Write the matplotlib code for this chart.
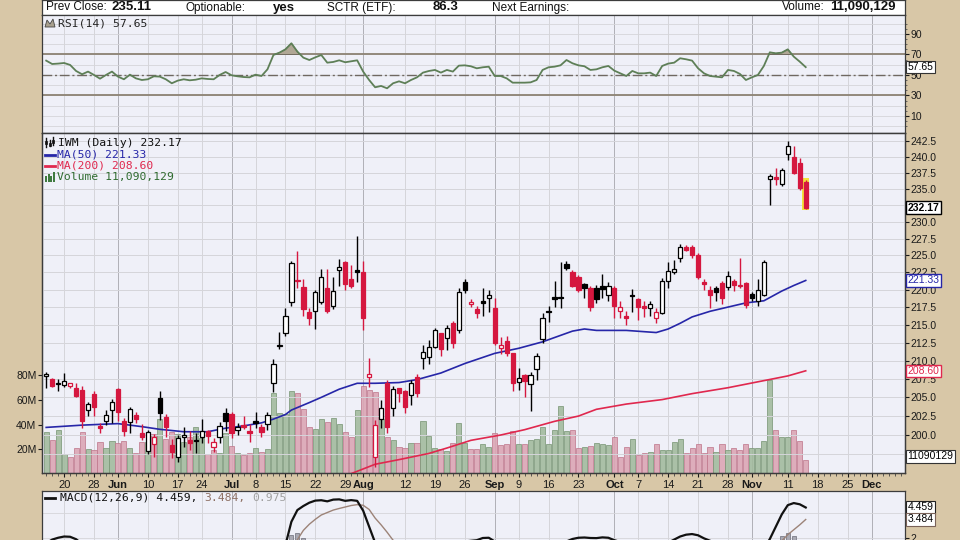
import numpy as np
import pandas as pd
import matplotlib
matplotlib.use("Agg")
import matplotlib.pyplot as plt
from matplotlib.patches import Rectangle, Polygon
from matplotlib.lines import Line2D
from matplotlib.ticker import NullLocator
import matplotlib.transforms as mtrans

plt.rcParams['font.family'] = ['Liberation Sans', 'DejaVu Sans']

# trading calendar, incl. the empty future part of the axis
holidays = ['2024-05-27', '2024-06-19', '2024-07-04', '2024-09-02', '2024-11-28']
days = pd.bdate_range('2024-05-15', '2024-12-10', freq='C', holidays=holidays)

opens = [207.9, 207.5, 206.8, 206.6, 206.5, 206.2, 206.0, 203.3, 205.5, 201.2,
         201.8, 203.3, 206.1, 201.8, 201.7, 202.6, 200.3, 197.9, 198.8, 204.9,
         202.4, 198.7, 197.2, 199.7, 199.4, 199.4, 199.8, 200.5, 198.4, 199.8,
         202.9, 202.8, 200.7, 201.3, 200.5, 201.8, 201.1, 201.4, 207.0, 212.0,
         213.9, 218.2, 221.2, 220.4, 216.8, 216.9, 218.2, 220.2, 217.6, 222.9,
         224.0, 221.5, 222.9, 222.6, 207.8, 197.1, 202.1, 207.0, 203.6, 206.2,
         205.9, 205.3, 207.8, 210.4, 210.5, 211.9, 213.8, 213.1, 215.2, 214.3,
         221.1, 217.9, 217.2, 218.3, 218.8, 217.4, 211.8, 212.7, 211.0, 207.1,
         208.0, 206.8, 208.9, 213.0, 217.0, 218.9, 218.9, 223.8, 222.6, 221.8,
         220.8, 220.2, 220.2, 220.6, 219.2, 220.2, 216.9, 216.3, 219.3, 218.6,
         217.6, 217.4, 216.0, 216.7, 221.3, 222.5, 224.6, 226.3, 226.2, 225.1,
         221.1, 220.0, 220.2, 220.9, 220.4, 221.3, 220.5, 220.9, 219.4, 218.3,
         219.2, 236.5, 236.8, 235.8, 240.4, 240.0, 239.0, 236.1]
highs = [208.4, 207.6, 207.5, 208.3, 207.0, 207.0, 206.5, 204.4, 205.8, 201.6,
         203.3, 204.8, 206.2, 202.2, 203.7, 203.0, 201.5, 200.7, 200.1, 205.9,
         202.8, 199.5, 200.0, 201.0, 200.5, 200.2, 202.1, 200.7, 199.6, 201.7,
         203.6, 203.1, 201.6, 202.5, 201.4, 203.1, 201.4, 203.1, 210.2, 214.0,
         217.3, 224.1, 225.6, 221.5, 217.4, 220.0, 223.0, 223.0, 221.8, 224.5,
         224.1, 223.6, 227.9, 224.2, 210.4, 202.0, 204.7, 207.3, 206.5, 206.3,
         206.0, 207.4, 208.2, 212.2, 212.8, 214.5, 213.9, 215.0, 215.5, 220.3,
         221.6, 218.6, 217.6, 220.3, 220.0, 218.8, 213.3, 213.4, 211.1, 209.0,
         208.1, 208.4, 211.1, 216.7, 217.7, 221.2, 224.0, 224.1, 222.9, 222.1,
         220.9, 220.5, 220.7, 222.2, 221.1, 220.5, 218.3, 217.0, 220.1, 218.8,
         218.4, 218.4, 217.3, 221.7, 224.0, 224.3, 226.7, 226.5, 226.5, 225.4,
         221.6, 220.5, 220.5, 221.2, 222.7, 221.6, 224.6, 221.1, 219.6, 221.6,
         224.3, 237.3, 238.3, 238.3, 242.5, 241.8, 239.8, 236.4]
lows = [206.3, 206.4, 205.9, 206.4, 206.2, 205.0, 200.9, 202.5, 202.5, 200.3,
        201.3, 201.6, 201.8, 199.9, 200.3, 201.6, 199.3, 197.5, 197.2, 202.0,
        199.7, 197.0, 196.5, 198.4, 198.0, 197.6, 199.0, 199.0, 197.8, 199.0,
        200.5, 199.6, 200.0, 200.8, 199.1, 200.9, 199.8, 200.7, 205.7, 211.6,
        213.4, 217.7, 220.2, 216.3, 215.0, 214.4, 218.0, 216.6, 217.2, 220.5,
        220.0, 220.2, 221.1, 214.2, 206.4, 195.9, 200.9, 200.3, 202.5, 204.4,
        202.9, 204.0, 205.0, 208.9, 209.6, 211.8, 210.7, 211.4, 211.8, 213.9,
        219.5, 217.5, 215.9, 216.3, 216.8, 212.1, 210.9, 210.7, 205.9, 206.0,
        205.0, 203.2, 207.4, 212.5, 215.4, 217.5, 217.4, 222.9, 220.4, 219.7,
        218.8, 216.9, 218.1, 218.8, 218.3, 216.0, 216.0, 214.9, 216.8, 215.7,
        216.1, 216.3, 215.2, 216.5, 220.3, 222.2, 224.0, 225.6, 224.6, 221.5,
        219.9, 217.3, 218.3, 218.0, 219.9, 219.8, 220.3, 217.4, 218.4, 217.6,
        219.1, 232.6, 235.6, 235.5, 239.6, 237.4, 234.9, 232.0]
closes = [208.2, 206.5, 207.0, 207.2, 206.9, 205.2, 201.8, 204.1, 203.7, 200.9,
          202.6, 204.4, 203.1, 200.5, 203.4, 202.1, 199.8, 200.4, 199.7, 202.9,
          201.1, 197.8, 199.6, 200.0, 198.9, 199.2, 200.5, 199.9, 199.1, 201.2,
          201.8, 200.3, 201.1, 201.0, 200.2, 201.6, 200.4, 202.6, 209.6, 212.2,
          216.3, 223.9, 221.4, 217.2, 216.0, 219.7, 221.8, 217.0, 219.8, 223.3,
          220.8, 220.6, 222.6, 215.9, 208.1, 201.3, 203.6, 201.1, 206.1, 205.6,
          203.7, 207.0, 205.6, 211.2, 211.9, 214.2, 211.6, 214.5, 212.4, 219.6,
          219.9, 218.2, 216.6, 218.1, 219.3, 212.4, 212.1, 211.1, 207.0, 207.6,
          207.2, 208.0, 210.6, 216.0, 216.8, 218.7, 218.75, 223.1, 220.6, 220.0,
          220.3, 217.5, 218.7, 220.1, 220.6, 217.6, 217.5, 216.0, 219.1, 217.5,
          217.4, 217.9, 216.8, 221.2, 222.7, 223.0, 226.3, 225.8, 225.0, 221.8,
          220.8, 219.2, 219.6, 218.8, 222.0, 220.7, 220.65, 217.8, 218.8, 220.0,
          224.0, 237.0, 236.5, 237.9, 241.7, 237.5, 235.1, 232.17]
volume_m = [33.8, 27.5, 35.6, 16.2, 13.5, 20.8, 33.8, 20.0, 19.4, 25.7,
            20.8, 26.7, 24.8, 26.7, 20.8, 17.3, 26.2, 25.6, 32.4, 44.5,
            28.1, 34.3, 32.4, 26.2, 30.0, 38.3, 29.0, 16.2, 19.4, 17.3,
            33.0, 22.7, 17.3, 15.4, 17.3, 20.8, 18.0, 20.0, 65.9, 49.7,
            48.3, 67.5, 65.3, 52.6, 37.8, 36.2, 44.3, 42.4, 45.1, 40.5,
            34.3, 30.2, 51.8, 71.3, 68.0, 66.7, 44.3, 30.0, 27.5, 21.6,
            21.0, 25.3, 25.3, 42.9, 30.8, 21.0, 20.0, 19.0, 25.0, 41.0,
            25.0, 20.0, 20.0, 24.0, 22.0, 33.0, 23.6, 24.5, 35.0, 24.0,
            24.0, 27.5, 28.0, 37.8, 24.0, 36.0, 55.0, 35.0, 35.6, 21.0,
            21.6, 23.0, 25.3, 24.6, 23.6, 30.2, 14.0, 21.6, 28.0, 15.0,
            17.0, 17.5, 24.6, 19.6, 19.6, 25.8, 28.0, 17.0, 20.8, 24.6,
            17.0, 21.6, 17.5, 24.6, 19.6, 20.8, 19.6, 24.6, 20.8, 21.0,
            27.0, 76.0, 35.6, 30.0, 30.0, 35.6, 27.0, 11.090129]
rsi14 = [64.0, 60.7, 61.1, 61.7, 59.8, 53.9, 50.7, 53.3, 50.0, 46.4,
         50.0, 53.3, 48.4, 45.8, 50.3, 46.7, 45.1, 45.8, 48.7, 48.4,
         45.8, 41.9, 44.5, 45.8, 44.8, 45.4, 46.7, 46.1, 45.8, 50.0,
         52.9, 49.7, 48.7, 48.0, 47.7, 50.3, 49.0, 55.5, 69.5, 71.8,
         75.0, 80.9, 72.8, 66.9, 64.6, 67.2, 69.5, 62.0, 62.7, 64.3,
         62.4, 63.3, 64.3, 53.3, 45.1, 38.0, 39.3, 37.0, 41.9, 43.8,
         41.9, 45.1, 47.7, 52.3, 53.9, 54.9, 52.3, 54.9, 53.3, 59.1,
         59.4, 58.5, 56.5, 57.5, 58.1, 49.0, 49.0, 46.7, 42.5, 42.5,
         42.5, 42.8, 45.1, 54.9, 57.5, 58.1, 59.4, 64.6, 61.4, 59.4,
         58.5, 54.9, 55.5, 57.5, 58.8, 54.2, 51.6, 49.0, 53.9, 51.6,
         51.6, 52.3, 49.0, 58.8, 61.1, 62.0, 66.3, 65.3, 64.0, 56.5,
         51.6, 49.0, 48.4, 47.7, 54.9, 53.9, 51.0, 45.1, 47.7, 50.0,
         58.8, 72.1, 71.1, 71.8, 75.0, 67.9, 63.0, 57.65]
macd_line = [1.55, 1.85, 2.0, 2.1, 2.08, 1.88, 1.5, 1.3, 1.15, 0.9,
             0.8, 0.8, 0.7, 0.45, 0.4, 0.3, 0.1, 0.05, -0.1, 0.05,
             -0.05, -0.3, -0.35, -0.4, -0.45, -0.5, -0.45, -0.5, -0.55, -0.45,
             -0.3, -0.35, -0.35, -0.35, -0.4, -0.35, -0.4, -0.3, 0.4, 0.9,
             1.4, 3.3, 4.25, 4.58, 4.85, 5.02, 5.05, 4.96, 5.1, 5.12,
             5.0, 5.06, 5.0, 4.2, 2.9, 1.6, 1.2, 0.8, 0.6, 0.4,
             0.3, 0.3, 0.25, 0.5, 0.7, 1.0, 1.1, 1.3, 1.3, 1.6,
             1.7, 1.75, 1.8, 1.98, 2.0, 1.7, 1.35, 1.05, 0.6, 0.35,
             0.2, 0.1, 0.2, 0.6, 0.95, 1.3, 1.6, 1.7, 1.9, 2.0,
             2.02, 1.98, 1.97, 2.03, 2.0, 1.8, 1.65, 1.45, 1.4, 1.3,
             1.2, 1.1, 1.0, 1.3, 1.6, 1.85, 2.1, 2.25, 2.3, 2.2,
             1.95, 1.75, 1.6, 1.4, 1.35, 1.25, 1.15, 0.9, 0.75, 0.7,
             1.1, 1.9, 2.9, 3.9, 4.65, 4.82, 4.72, 4.459]
macd_signal = [1.6, 1.6, 1.65, 1.7, 1.75, 1.78, 1.72, 1.64, 1.55, 1.45,
               1.35, 1.25, 1.15, 1.05, 0.95, 0.85, 0.7, 0.6, 0.45, 0.35,
               0.3, 0.2, 0.1, 0.0, -0.1, -0.15, -0.2, -0.25, -0.3, -0.3,
               -0.3, -0.3, -0.3, -0.3, -0.3, -0.3, -0.3, -0.3, -0.2, 0.0,
               0.5, 1.05, 1.84, 2.6, 3.1, 3.5, 3.85, 4.05, 4.25, 4.38,
               4.5, 4.62, 4.69, 4.64, 4.3, 3.6, 3.05, 2.45, 1.8, 1.5,
               1.25, 1.05, 0.9, 0.8, 0.75, 0.75, 0.8, 0.85, 0.95, 1.05,
               1.2, 1.3, 1.4, 1.5, 1.6, 1.6, 1.55, 1.45, 1.3, 1.15,
               1.0, 0.9, 0.8, 0.75, 0.8, 0.9, 1.0, 1.15, 1.3, 1.45,
               1.55, 1.65, 1.7, 1.75, 1.78, 1.78, 1.75, 1.7, 1.65, 1.6,
               1.5, 1.45, 1.35, 1.35, 1.4, 1.5, 1.6, 1.7, 1.75, 1.75,
               1.72, 1.7, 1.68, 1.62, 1.55, 1.5, 1.45, 1.4, 1.3, 1.2,
               1.2, 1.35, 1.55, 1.75, 2.25, 2.65, 3.05, 3.484]

# moving averages read at points along the curves (day index, value)
ma50_day = [0, 6, 12, 16, 19, 23, 27, 30, 33, 36, 38, 40, 41, 44, 46, 49, 52, 55, 59, 62,
            66, 70, 75, 79, 83, 86, 88, 90, 92, 97, 102, 104, 106, 108, 111, 114, 117, 120,
            123, 125, 127]
ma50_val = [201.0, 201.3, 201.5, 201.1, 200.75, 200.43, 200.43, 200.9, 201.2, 201.6, 202.1,
            202.7, 203.3, 204.3, 205.0, 206.1, 206.9, 206.9, 207.0, 207.4, 208.3, 209.6,
            211.0, 211.7, 212.6, 213.5, 214.1, 214.4, 214.2, 214.2, 213.9, 214.4, 215.2,
            216.1, 216.9, 217.5, 218.1, 218.4, 219.8, 220.6, 221.33]
ma200_day = [45, 51, 55, 59, 64, 67, 71, 76, 80, 85, 89, 92, 97, 103, 108, 114, 119, 124, 127]
ma200_val = [194.3, 195.0, 196.2, 196.8, 197.6, 198.3, 199.3, 200.0, 200.7, 201.8, 202.5,
             203.4, 204.1, 204.7, 205.5, 206.3, 207.1, 207.9, 208.6]

tick_days = ['2024-05-20', '2024-05-28', '2024-06-03', '2024-06-10', '2024-06-17',
             '2024-06-24', '2024-07-01', '2024-07-08', '2024-07-15', '2024-07-22',
             '2024-07-29', '2024-08-01', '2024-08-12', '2024-08-19', '2024-08-26',
             '2024-09-03', '2024-09-09', '2024-09-16', '2024-09-23', '2024-10-01',
             '2024-10-07', '2024-10-14', '2024-10-21', '2024-10-28', '2024-11-01',
             '2024-11-11', '2024-11-18', '2024-11-25', '2024-12-02']
tick_text = ['20', '28', 'Jun', '10', '17', '24', 'Jul', '8', '15', '22', '29', 'Aug',
             '12', '19', '26', 'Sep', '9', '16', '23', 'Oct', '7', '14', '21', '28',
             'Nov', '11', '18', '25', 'Dec']
price_levels = [197.5 + 2.5 * k for k in range(19)]

# colours
BEIGE = '#d8c7a7'
PANEL = '#eff0f8'
GRID = '#d5d5da'
GRID_M = '#b0b0b6'
SPINE = '#3c3c3c'
UPC = '#000000'
DNC = '#d5173f'
BLUE = '#2626a8'
RED = '#e0284e'

opens, highs, lows, closes = map(np.array, (opens, highs, lows, closes))
vol = np.array(volume_m)
rsi = np.array(rsi14)
macd = np.array(macd_line)
sig = np.array(macd_signal)
n = len(closes)
x = np.arange(n)
pos = {d: i for i, d in enumerate(days)}
tick_pos = [pos[pd.Timestamp(d)] for d in tick_days]
months = {'Jun', 'Jul', 'Aug', 'Sep', 'Oct', 'Nov', 'Dec'}
XLIM = (-0.7, 143.6)

fig = plt.figure(figsize=(9.6, 5.4), dpi=100)
fig.patch.set_facecolor(BEIGE)


def fx(p):
    return p / 960


def fy(p):
    return 1 - p / 540


L, R = 42, 905
ax_head = fig.add_axes([fx(L), fy(15), fx(R - L), 15 / 540])
ax_rsi = fig.add_axes([fx(L), fy(133), fx(R - L), 118 / 540])
ax_vol = fig.add_axes([fx(L), fy(473), fx(R - L), 340 / 540])
ax = ax_vol.twinx()
ax_macd = fig.add_axes([fx(L), fy(600), fx(R - L), 109 / 540])

ax_head.set_facecolor('white')
ax_head.set_xticks([])
ax_head.set_yticks([])
for a in (ax_head, ax_rsi, ax_vol, ax, ax_macd):
    for s in a.spines.values():
        s.set_color(SPINE)
        s.set_linewidth(0.9)
for a in (ax_rsi, ax_vol, ax_macd):
    a.set_facecolor(PANEL)
    a.set_xlim(*XLIM)
    for p, t in zip(tick_pos, tick_text):
        a.axvline(p, color=GRID_M if t in months else GRID, lw=0.7, zorder=0)
for a in (ax_rsi, ax_macd):
    a.tick_params(axis='x', which='both', bottom=False, labelbottom=False)
ax.set_xlim(*XLIM)

# header
hy = fy(7.5)
for px_, txt, bold in [(45.5, 'Prev Close:', False), (111.5, '235.11', True),
                       (186, 'Optionable:', False), (272.5, 'yes', True),
                       (327, 'SCTR (ETF):', False), (432.5, '86.3', True),
                       (491.5, 'Next Earnings:', False), (781.5, 'Volume:', False),
                       (830, '11,090,129', True)]:
    fig.text(fx(px_), hy, txt, fontsize=9.5 if bold else 8.5,
             fontweight='bold' if bold else 'normal', va='center', ha='left', color='#111')

# ---- RSI panel
ax_rsi.set_ylim(-6.6, 108.5)
for v in range(0, 101, 10):
    ax_rsi.axhline(v, color=GRID, lw=0.6, zorder=0)
ax_rsi.fill_between(x, 70, rsi, where=rsi >= 70, interpolate=True,
                    facecolor='#b0a795', edgecolor='#6b6459', lw=0.6, zorder=2)
ax_rsi.axhline(70, color='#8c8273', lw=1.3, zorder=1)
ax_rsi.axhline(30, color='#8c8273', lw=1.3, zorder=1)
ax_rsi.axhline(50, color='#6f6861', lw=1.0, ls=(0, (7, 2, 1.5, 2)), zorder=1)
ax_rsi.plot(x, rsi, color='#5e7f57', lw=1.3, zorder=3)
ax_rsi.yaxis.tick_right()
ax_rsi.set_yticks([10, 30, 50, 70, 90])
ax_rsi.set_yticks(range(0, 101, 5), minor=True)
ax_rsi.tick_params(axis='y', which='major', length=3, pad=1, labelsize=7.5, colors='#1a1a1a')
ax_rsi.tick_params(axis='y', which='minor', length=1.5, colors='#555')
ax_rsi.text(1.003, rsi[-1], f'{rsi[-1]:.2f}', transform=ax_rsi.get_yaxis_transform(),
            va='center', ha='left', fontsize=7.5, clip_on=False, zorder=10,
            bbox=dict(boxstyle='square,pad=0.12', fc='white', ec='#333', lw=0.8))

mono = dict(family='DejaVu Sans Mono', fontsize=8.2, va='center', ha='left')
CH = 0.602 * 8.2 * 100 / 72   # width of one mono character in pixels

fig.text(fx(58), fy(23.3), 'RSI(14) 57.65', color='#222', **mono)
fig.add_artist(Polygon([[fx(45), fy(27)], [fx(47), fy(20)], [fx(50), fy(24)],
                        [fx(53), fy(19)], [fx(55), fy(27)]], closed=True,
                       fc='#a8a08e', ec='#444', lw=0.6))

# ---- volume (behind) and price candles (front)
up = closes >= np.r_[closes[0], closes[:-1]]
edge = np.where(up, UPC, DNC)
face = np.where(closes < opens, edge, 'white')
ax_vol.bar(x, vol, width=0.85, color=np.where(up, '#a3bb9e', '#dca6b5'),
           edgecolor=np.where(up, '#7c9878', '#c07a8e'), lw=0.6, alpha=0.9, zorder=2)
ax_vol.set_ylim(0.8, 276.1)
ax_vol.set_yticks([20, 40, 60, 80])
ax_vol.set_yticklabels(['20M', '40M', '60M', '80M'])
ax_vol.tick_params(axis='y', length=3, pad=1, labelsize=7.5, colors='#1a1a1a')

ax.set_yscale('log')
ax.set_ylim(195.08, 243.8)
ax.yaxis.set_minor_locator(NullLocator())
ax.set_yticks(price_levels)
ax.set_yticklabels([f'{v:.1f}' for v in price_levels])
ax.tick_params(axis='y', length=3, pad=1, labelsize=7.5, colors='#1a1a1a')
for v in price_levels:
    ax.axhline(v, color=GRID, lw=0.7, zorder=0)

ax.plot(ma200_day, ma200_val, color=RED, lw=1.2, zorder=2)
ax.plot(ma50_day, ma50_val, color=BLUE, lw=1.2, zorder=2)

ax.add_patch(Rectangle((n - 1 - 0.6, lows[-1] - 0.25), 1.2, highs[-1] - lows[-1] + 0.5,
                       fc='#f2e23a', ec='none', zorder=2.5))
ax.vlines(x, lows, highs, colors=edge, lw=1.0, zorder=3)
body_lo = np.minimum(opens, closes)
body_h = np.maximum(np.abs(closes - opens), 0.12)
ax.bar(x, body_h, bottom=body_lo, width=0.72, color=face, edgecolor=edge, lw=0.9, zorder=4)

# date axis
ax_vol.set_xticks(tick_pos)
ax_vol.set_xticklabels(tick_text)
ax_vol.set_xticks(range(0, 144), minor=True)
ax_vol.tick_params(axis='x', which='major', length=3, pad=2, labelsize=8, colors='#1a1a1a')
ax_vol.tick_params(axis='x', which='minor', length=2, colors='#444')
for lab in ax_vol.get_xticklabels():
    if lab.get_text() in months:
        lab.set_fontweight('bold')

# right-hand value boxes
ybox = ax.get_yaxis_transform()
for val, txt, col, bold in [(closes[-1], f'{closes[-1]:.2f}', '#000', True),
                            (ma50_val[-1], f'{ma50_val[-1]:.2f}', BLUE, False),
                            (ma200_val[-1], f'{ma200_val[-1]:.2f}', RED, False)]:
    ax.text(1.003, val, txt, transform=ybox, va='center', ha='left', fontsize=7.5,
            color=col, fontweight='bold' if bold else 'normal', clip_on=False, zorder=10,
            bbox=dict(boxstyle='square,pad=0.12', fc='white', ec=col, lw=1.0))
vtrans = mtrans.offset_copy(
    mtrans.blended_transform_factory(ax.transAxes, ax_vol.transData),
    fig=fig, y=4, units='dots')
ax.text(1.003, vol[-1], f'{vol[-1] * 1e6:.0f}', transform=vtrans, va='center',
        ha='left', fontsize=7.5, clip_on=False, zorder=10,
        bbox=dict(boxstyle='square,pad=0.12', fc='white', ec='#333', lw=0.8))

# price panel legend
fig.text(fx(58), fy(142.7), 'IWM (Daily) 232.17', color='#111', **mono)
fig.text(fx(57), fy(155), 'MA(50) 221.33', color=BLUE, **mono)
fig.text(fx(57), fy(165.7), 'MA(200) 208.60', color=RED, **mono)
fig.text(fx(57), fy(177.3), 'Volume 11,090,129', color='#2f6b2f', **mono)
fig.add_artist(Line2D([fx(45), fx(55)], [fy(155), fy(155)], color=BLUE, lw=2))
fig.add_artist(Line2D([fx(45), fx(55)], [fy(165.7), fy(165.7)], color=RED, lw=2))
for k, hgt in enumerate([5, 8, 6, 9]):
    fig.add_artist(Rectangle((fx(45 + 2.5 * k), fy(181.5)), fx(2), hgt / 540,
                             fc='#3f7a3f', ec='none'))
for k, (lo, hi) in enumerate([(138, 147), (140, 146), (137, 145)]):
    fig.add_artist(Line2D([fx(46 + 3.5 * k)] * 2, [fy(hi), fy(lo)], color='#111', lw=1))
    fig.add_artist(Rectangle((fx(45 + 3.5 * k), fy(lo + 6)), fx(2), 3 / 540,
                             fc='#111', ec='#111', lw=0.5))

# ---- MACD panel
hist = macd - sig
ax_macd.set_ylim(-3.06, 5.80)
for v in (-2, 0, 2, 4):
    ax_macd.axhline(v, color=GRID, lw=0.6, zorder=0)
ax_macd.bar(x, hist, width=0.7, color='#a9a9b3', edgecolor='#7c7c88', lw=0.6, zorder=2)
ax_macd.plot(x, sig, color='#9c8378', lw=1.0, zorder=3)
ax_macd.plot(x, macd, color='#111', lw=1.6, zorder=4)
ax_macd.yaxis.tick_right()
ax_macd.set_yticks([2, 4])
ax_macd.set_yticklabels(['2', ''])
ax_macd.tick_params(axis='y', length=3, pad=1, labelsize=7.5, colors='#1a1a1a')
ymb = ax_macd.get_yaxis_transform()
ax_macd.text(1.003, macd[-1], f'{macd[-1]:.3f}', transform=ymb, va='center', ha='left',
             fontsize=7.5, clip_on=False, zorder=10,
             bbox=dict(boxstyle='square,pad=0.12', fc='white', ec='#222', lw=0.8))
ax_macd.text(1.003, sig[-1], f'{sig[-1]:.3f}', transform=ymb, va='center', ha='left',
             fontsize=7.5, clip_on=False, zorder=10,
             bbox=dict(boxstyle='square,pad=0.12', fc='white', ec='#7a6258', lw=0.8))
t1 = f'MACD(12,26,9) {macd[-1]:.3f},'
t2 = f'{sig[-1]:.3f},'
t3 = f'{hist[-1]:.3f}'
fig.text(fx(60), fy(498), t1, color='#111', **mono)
fig.text(fx(60 + (len(t1) + 1) * CH), fy(498), t2, color='#8c6e62', **mono)
fig.text(fx(60 + (len(t1) + len(t2) + 2) * CH), fy(498), t3, color='#a0a0a0', **mono)
fig.add_artist(Line2D([fx(45), fx(55)], [fy(498), fy(498)], color='#111', lw=2))

fig.savefig('out.png', dpi=100, facecolor=fig.get_facecolor())
